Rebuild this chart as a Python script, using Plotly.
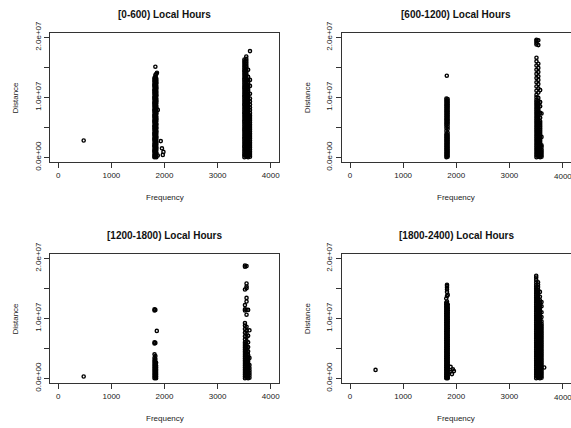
import plotly.graph_objects as go

# Distance vs. frequency (kHz) for each six-hour block of local time.
# Distances are listed in thousands of km (Mm) and plotted in metres.

# [0-600) local hours
h0000_freq = [478, 1810, 1828, 1837, 1846, 1858, 1874, 1930, 1952, 1968, 1980,
              3505, 3540, 3575, 3610]
h0000_dist = [
    [2.8],
    [0.0, 0.2, 0.5, 0.9, 1.1, 1.4, 1.8, 2.0, 2.3, 2.7, 3.0, 3.2, 3.6, 3.9, 4.1, 4.5, 4.8, 5.1, 5.3, 5.7,
     6.0, 6.2, 6.6, 6.9, 7.1, 7.5, 7.8, 8.0, 8.4, 8.7, 9.0, 9.2, 9.6, 9.9, 10.1, 10.5, 10.8, 11.1, 11.3,
     11.7, 12.0, 12.2, 12.6, 12.9, 13.2],
    [0.1, 0.4, 0.7, 1.0, 1.3, 1.6, 1.9, 2.2, 2.5, 2.8, 3.1, 3.4, 3.7, 4.0, 4.3, 4.6, 4.9, 5.2, 5.5, 5.8,
     6.1, 6.4, 6.7, 7.0, 7.3, 7.6, 7.9, 8.2, 8.5, 8.8, 9.1, 9.4, 9.7, 10.0, 10.3, 10.6, 10.9, 11.2, 11.5,
     11.8, 12.1, 12.4, 12.7, 13.0, 13.4, 13.7, 15.1],
    [0.2, 0.5, 0.8, 1.1, 1.4, 1.7, 2.0, 2.4, 2.7, 3.0, 3.3, 3.6, 3.9, 4.2, 4.5, 4.8, 5.1, 5.4, 5.7, 6.0,
     6.3, 6.6, 6.9, 7.2, 7.5, 7.8, 8.1, 8.4, 8.7, 9.0, 9.3, 9.6, 9.9, 10.2, 10.5, 10.8, 11.1, 11.4,
     11.7, 12.0, 12.3, 12.6, 12.9, 13.3],
    [0.0, 0.3, 0.6, 0.8, 1.2, 1.5, 1.7, 2.1, 2.4, 2.6, 3.0, 3.3, 3.5, 3.9, 4.2, 4.4, 4.8, 5.0, 5.4, 5.6,
     6.0, 6.3, 6.5, 6.8, 7.2, 7.4, 7.7, 8.1, 8.3, 8.6, 9.0, 9.3, 9.5, 9.8, 10.2, 10.4, 10.7, 11.0, 11.4,
     11.6, 11.9, 12.3, 12.5, 12.8, 13.1, 13.9],
    [14.1],
    [7.9, 0.3],
    [2.7],
    [1.5],
    [0.4],
    [0.9],
    [0.0, 0.3, 0.5, 0.8, 1.1, 1.4, 1.7, 1.9, 2.2, 2.5, 2.8, 3.1, 3.3, 3.6, 3.9, 4.2, 4.5, 4.7, 5.0, 5.3,
     5.6, 5.9, 6.1, 6.4, 6.7, 7.0, 7.3, 7.5, 7.8, 8.1, 8.4, 8.7, 8.9, 9.2, 9.5, 9.8, 10.1, 10.3, 10.6,
     10.9, 11.2, 11.5, 11.7, 12.0, 12.3, 12.6, 12.9, 13.1, 13.4, 13.7, 14.0, 14.3, 14.5, 14.8, 15.1,
     15.4, 15.7, 16.0, 16.3],
    [0.1, 0.4, 0.7, 1.0, 1.2, 1.5, 1.8, 2.1, 2.4, 2.6, 2.9, 3.2, 3.5, 3.8, 4.0, 4.3, 4.6, 4.9, 5.2, 5.4,
     5.7, 6.0, 6.3, 6.6, 6.8, 7.1, 7.4, 7.7, 8.0, 8.2, 8.5, 8.8, 9.1, 9.4, 9.6, 9.9, 10.2, 10.5, 10.8,
     11.0, 11.3, 11.6, 11.9, 12.2, 12.4, 12.7, 13.0, 13.3, 13.6, 13.8, 14.1, 14.4, 14.7, 15.0, 15.2,
     15.5, 15.8, 16.1, 16.4, 16.8],
    [0.0, 0.3, 0.6, 0.9, 1.2, 1.5, 1.8, 2.1, 2.4, 2.7, 3.0, 3.3, 3.6, 3.9, 4.2, 4.5, 4.8, 5.1, 5.4, 5.7,
     6.0, 6.3, 6.6, 6.9, 7.2, 7.5, 7.8, 8.1, 8.4, 8.7, 9.0, 9.3, 9.6, 9.9, 10.2, 10.5, 10.8, 11.1, 11.4,
     11.7, 12.0, 12.4, 12.8, 13.4, 14.6],
    [0.1, 0.4, 0.7, 1.0, 1.3, 1.6, 1.9, 2.2, 2.5, 2.8, 3.1, 3.4, 3.7, 4.0, 4.3, 4.6, 4.9, 5.2, 5.5, 5.8,
     6.1, 6.4, 6.7, 7.0, 7.4, 7.9, 8.3, 8.8, 9.3, 9.8, 10.6, 11.9, 12.9, 17.7],
]

# [600-1200) local hours
h0600_freq = [1815, 1822, 1826, 1838, 3510, 3545, 3580, 3605]
h0600_dist = [
    [0.0, 0.3, 0.6, 0.9, 1.2, 1.5, 1.8, 2.1, 2.4, 2.7, 3.0, 3.3, 3.6, 3.9, 4.4, 4.9, 5.3, 5.6, 5.9, 6.2,
     6.5, 6.8, 7.1, 7.4, 7.7, 8.0, 8.3, 8.6, 8.9, 9.2, 9.5, 9.8],
    [13.6],
    [0.2, 0.5, 0.8, 1.1, 1.4, 1.7, 2.0, 2.3, 2.6, 2.9, 3.2, 3.5, 3.8, 6.3, 7.6, 8.7],
    [0.1, 0.4, 0.7, 1.0, 1.3, 1.6, 1.9, 2.2, 2.5, 2.8, 3.1, 3.4, 3.7, 4.1, 4.7, 5.1, 5.5, 5.8, 6.1, 6.4,
     6.7, 7.0, 7.3, 7.6, 7.9, 8.2, 8.5, 8.8, 9.1, 9.4, 9.7],
    [0.0, 0.3, 0.6, 0.9, 1.2, 1.5, 1.8, 2.1, 2.4, 2.7, 3.0, 3.3, 3.6, 3.9, 4.2, 4.5, 4.8, 5.1, 5.4, 5.7,
     6.0, 6.3, 6.6, 6.9, 7.2, 7.5, 7.8, 8.1, 8.4, 8.7, 9.0, 9.3, 9.6, 10.0, 10.4, 11.1, 11.8, 12.5,
     13.2, 13.9, 14.6, 15.3, 16.0, 16.6, 18.8, 19.1, 19.4, 19.6],
    [0.1, 0.4, 0.7, 1.0, 1.3, 1.6, 1.9, 2.2, 2.5, 2.8, 3.1, 3.4, 3.7, 4.0, 4.3, 4.6, 4.9, 5.2, 5.5, 5.8,
     6.1, 6.4, 6.7, 7.0, 7.3, 7.6, 7.9, 8.2, 8.5, 8.8, 9.1, 9.4, 9.9, 10.8, 11.5, 12.2, 12.9, 13.5,
     14.2, 14.9, 15.6, 18.7, 19.5],
    [0.0, 0.3, 0.6, 0.9, 1.2, 1.5, 1.8, 2.1, 2.4, 2.7, 3.0, 3.3, 3.6, 3.9, 4.2, 4.5, 4.8, 5.1, 5.4, 5.7,
     6.0, 6.6, 7.4, 8.5, 9.2, 11.2],
    [0.1, 0.4, 0.7, 1.0, 1.3, 1.7, 2.0, 3.4, 7.3],
]

# [1200-1800) local hours
h1200_freq = [478, 1812, 1828, 1842, 1855, 3515, 3545, 3575, 3600]
h1200_dist = [
    [0.3],
    [0.0, 0.3, 0.6, 0.9, 1.2, 1.5, 1.8, 2.1, 2.4, 2.7, 3.0, 3.4, 4.0, 5.8, 6.0, 11.3, 11.5],
    [0.1, 0.4, 0.7, 1.0, 1.3, 1.6, 1.9, 2.2, 2.5, 2.8, 3.2, 3.7, 5.9, 11.4],
    [0.0, 0.3, 0.6, 0.9, 1.2, 1.5, 1.8, 2.1, 2.6],
    [7.9],
    [0.0, 0.3, 0.6, 0.9, 1.2, 1.5, 1.8, 2.1, 2.4, 2.7, 3.0, 3.3, 3.6, 3.9, 4.2, 4.5, 4.8, 5.1, 5.4, 5.7,
     6.0, 6.5, 7.0, 7.6, 8.2, 8.8, 9.2, 11.3, 11.5, 12.2, 14.8, 18.6, 18.8],
    [0.1, 0.4, 0.7, 1.0, 1.3, 1.6, 1.9, 2.2, 2.5, 2.8, 3.1, 3.4, 3.7, 4.0, 4.3, 4.6, 4.9, 5.2, 5.5, 6.2,
     6.9, 7.5, 8.0, 8.6, 10.6, 11.4, 12.8, 13.4, 15.0, 15.3, 15.8, 18.7],
    [0.0, 0.3, 0.6, 0.9, 1.2, 1.5, 1.8, 2.1, 2.4, 2.7, 3.0, 3.3, 3.6, 3.9, 4.5, 5.2, 6.0, 7.1, 11.4],
    [0.1, 0.5, 0.9, 1.3, 1.7, 2.2, 3.4, 8.0],
]

# [1800-2400) local hours
h1800_freq = [481, 1812, 1826, 1840, 1875, 1894, 1919, 1937, 1956,
              3505, 3540, 3575, 3605, 3656]
h1800_dist = [
    [1.4],
    [0.0, 0.3, 0.6, 0.9, 1.2, 1.5, 1.8, 2.1, 2.4, 2.7, 3.0, 3.3, 3.6, 3.9, 4.2, 4.5, 4.8, 5.1, 5.4, 5.7,
     6.0, 6.3, 6.6, 6.9, 7.2, 7.5, 7.8, 8.1, 8.4, 8.7, 9.0, 9.3, 9.6, 9.9, 10.2, 10.5, 10.8, 11.1, 11.4,
     11.7, 12.0, 12.3, 12.6, 13.3],
    [0.1, 0.4, 0.7, 1.0, 1.3, 1.6, 1.9, 2.2, 2.5, 2.8, 3.1, 3.4, 3.7, 4.0, 4.3, 4.6, 4.9, 5.2, 5.5, 5.8,
     6.1, 6.4, 6.7, 7.0, 7.3, 7.6, 7.9, 8.2, 8.5, 8.8, 9.1, 9.4, 9.7, 10.0, 10.3, 10.6, 10.9, 11.2, 11.5,
     11.8, 12.1, 12.4, 12.8, 13.7, 14.4, 14.8, 15.1, 15.4, 15.6],
    [0.0, 0.2, 0.5, 0.8, 1.1, 1.4, 1.7, 2.0, 2.3, 2.6, 2.9, 3.2, 3.5, 3.8, 4.1, 4.4, 4.7, 5.0, 5.3, 5.6,
     5.9, 6.2, 6.5, 6.8, 7.1, 7.4, 7.7, 8.0, 8.3, 8.6, 8.9, 9.2, 9.5, 9.8, 10.1, 10.4, 10.7, 11.0, 11.3,
     11.6, 11.9, 12.3, 13.9],
    [1.1],
    [1.9],
    [0.7],
    [1.5],
    [1.2],
    [0.0, 0.3, 0.6, 0.9, 1.2, 1.5, 1.8, 2.1, 2.4, 2.7, 3.0, 3.3, 3.6, 3.9, 4.2, 4.5, 4.8, 5.1, 5.4, 5.7,
     6.0, 6.3, 6.6, 6.9, 7.2, 7.5, 7.8, 8.1, 8.4, 8.7, 9.0, 9.3, 9.6, 9.9, 10.2, 10.5, 10.8, 11.1, 11.4,
     11.7, 12.0, 12.3, 12.6, 12.9, 13.2, 13.5, 13.8, 14.1, 14.4, 14.7, 15.0, 15.3, 15.6, 16.0, 16.4,
     16.8, 17.1],
    [0.1, 0.4, 0.7, 1.0, 1.3, 1.6, 1.9, 2.2, 2.5, 2.8, 3.1, 3.4, 3.7, 4.0, 4.3, 4.6, 4.9, 5.2, 5.5, 5.8,
     6.1, 6.4, 6.7, 7.0, 7.3, 7.6, 7.9, 8.2, 8.5, 8.8, 9.1, 9.4, 9.7, 10.0, 10.3, 10.6, 10.9, 11.2, 11.5,
     11.8, 12.1, 12.4, 12.7, 13.0, 13.3, 13.6, 13.9, 14.2, 14.5, 14.8, 15.2, 15.6, 16.0],
    [0.0, 0.3, 0.6, 0.9, 1.2, 1.5, 1.8, 2.1, 2.4, 2.7, 3.0, 3.3, 3.6, 3.9, 4.2, 4.5, 4.8, 5.1, 5.4, 5.7,
     6.0, 6.3, 6.6, 6.9, 7.2, 7.5, 7.8, 8.1, 8.4, 8.7, 9.0, 9.3, 9.6, 9.9, 10.2, 10.5, 10.8, 11.1, 11.4,
     11.7, 12.0, 12.3, 12.6, 13.0, 13.6, 14.4],
    [0.1, 0.4, 0.7, 1.0, 1.3, 1.6, 1.9, 2.2, 2.5, 2.8, 3.1, 3.4, 3.7, 4.0, 4.3, 4.6, 4.9, 5.2, 5.5, 5.8,
     6.1, 6.4, 6.7, 7.0, 7.3, 7.6, 7.9, 8.2, 8.5, 8.8, 9.1, 9.5, 10.2, 11.0, 12.0, 12.7],
    [1.8],
]

panel_titles = ["[0-600) Local Hours", "[600-1200) Local Hours",
                "[1200-1800) Local Hours", "[1800-2400) Local Hours"]
panel_data = [(h0000_freq, h0000_dist), (h0600_freq, h0600_dist),
              (h1200_freq, h1200_dist), (h1800_freq, h1800_dist)]

x_ticks = [0, 1000, 2000, 3000, 4000]
y_ticks = [0, 5e6, 1e7, 1.5e7, 2e7]
y_tick_text = ["0.0e+00", "", "1.0e+07", "", "2.0e+07"]

W, H = 571, 428
FONT = "Liberation Sans, Arial, sans-serif"
INK = "#222222"

# plot-region boxes in pixels: (left, right, top, bottom)
boxes = [(49.8, 279.2, 32.5, 162.1), (341.5, 571.0, 32.5, 162.1),
         (49.8, 279.2, 253.5, 383.1), (341.5, 571.0, 253.5, 383.1)]


def px(x):
    return x / W


def py(y):
    return 1 - y / H


fig = go.Figure()
annotations = []
for i, ((freq, dist), title, box) in enumerate(zip(panel_data, panel_titles, boxes)):
    n = "" if i == 0 else str(i + 1)
    right_col = i % 2 == 1
    xs, ys = [], []
    for f, ds in zip(freq, dist):
        for d in ds:
            xs.append(f)
            ys.append(d * 1e6)
    fig.add_trace(go.Scatter(
        x=xs, y=ys, mode="markers", xaxis="x" + n, yaxis="y" + n,
        marker=dict(symbol="circle-open", size=3.2, color="black",
                    line=dict(width=1.4, color="black")),
        showlegend=False, hoverinfo="skip"))
    l, r, t, b = box
    axis_common = dict(showline=True, mirror=True, linecolor="#333333", linewidth=1,
                       ticks="outside", ticklen=5, tickcolor="#333333", tickwidth=1,
                       showgrid=False, zeroline=False, automargin=False,
                       ticklabeloverflow="allow",
                       tickfont=dict(family=FONT, size=8, color=INK))
    # the last x label of the right-hand panels sits on the page edge, so it is
    # written as an annotation pinned to the axis value instead
    x_text = [str(v) for v in x_ticks]
    if right_col:
        x_text[-1] = ""
    fig.update_layout(**{
        "xaxis" + n: dict(domain=[px(l), px(r)], range=[-160, 4160],
                          tickvals=x_ticks, ticktext=x_text,
                          anchor="y" + n, **axis_common),
        "yaxis" + n: dict(domain=[py(b), py(t)], range=[-0.8e6, 20.8e6],
                          tickvals=y_ticks, ticktext=y_tick_text, tickangle=-90,
                          anchor="x" + n, **axis_common),
    })
    if right_col:
        annotations.append(dict(text=str(x_ticks[-1]), x=x_ticks[-1], xref="x" + n,
                                y=py(b + 14.0), yref="paper", showarrow=False,
                                xanchor="center", yanchor="middle",
                                font=dict(family=FONT, size=8, color=INK)))
    cx = (l + r) / 2
    annotations.append(dict(text="<b>" + title + "</b>", x=px(cx), y=py(t - 18),
                            xref="paper", yref="paper", showarrow=False,
                            xanchor="center", yanchor="middle",
                            font=dict(family=FONT, size=10, color="#111111")))
    annotations.append(dict(text="Frequency", x=px(cx), y=py(b + 35.5),
                            xref="paper", yref="paper", showarrow=False,
                            xanchor="center", yanchor="middle",
                            font=dict(family=FONT, size=8, color=INK)))
    annotations.append(dict(text="Distance", x=px(l - 34.5), y=py((t + b) / 2),
                            xref="paper", yref="paper", showarrow=False, textangle=-90,
                            xanchor="center", yanchor="middle",
                            font=dict(family=FONT, size=8, color=INK)))

fig.update_layout(width=W, height=H, margin=dict(l=0, r=0, t=0, b=0),
                  paper_bgcolor="white", plot_bgcolor="white",
                  annotations=annotations)

fig.write_html("out.html")
